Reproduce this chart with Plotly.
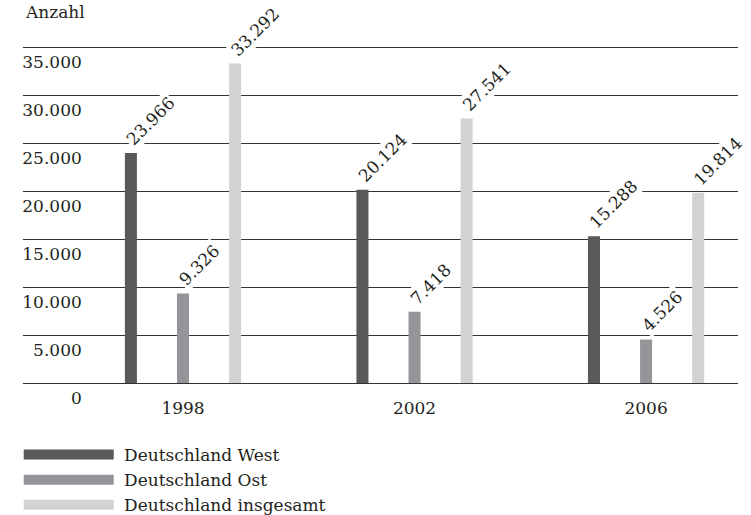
import plotly.graph_objects as go

# Anzahl nach Jahr und Region
years = ["1998", "2002", "2006"]
series_names = ["Deutschland West", "Deutschland Ost", "Deutschland insgesamt"]
west = [23966, 20124, 15288]
ost = [9326, 7418, 4526]
gesamt = [33292, 27541, 19814]
y_ticks = [0, 5000, 10000, 15000, 20000, 25000, 30000, 35000]

colors = ["#58595b", "#939598", "#d1d2d4"]
values = [west, ost, gesamt]
slot_offsets = [-0.225, 0.0, 0.225]

FONT = "DejaVu Serif"
TXT = "#231f20"

fig = go.Figure()

for name, vals, col in zip(series_names, values, colors):
    fig.add_trace(go.Bar(
        x=years, y=vals, name=name, marker=dict(color=col, line=dict(width=0)),
        showlegend=False, hoverinfo="skip",
    ))

# legend entries drawn as wide bars
for name, col in zip(series_names, colors):
    fig.add_trace(go.Scatter(
        x=[None], y=[None], mode="lines", name="\u00a0" + name, legendgroup=name,
        line=dict(color=col, width=12),
    ))

# rotated value labels with white backing
annotations = []
for vals, off in zip(values, slot_offsets):
    for i, v in enumerate(vals):
        label = f"{v:,}".replace(",", ".")
        annotations.append(dict(
            x=i + off, y=v, xref="x", yref="y", text=label, showarrow=False,
            textangle=-45, xanchor="left", yanchor="bottom",
            xshift=-11, yshift=1, bgcolor="white", borderpad=1,
            font=dict(family=FONT, size=17, color=TXT),
        ))

annotations.append(dict(
    x=0, y=1, xref="paper", yref="paper", text="Anzahl", showarrow=False,
    xanchor="left", yanchor="bottom", yshift=20,
    font=dict(family=FONT, size=17, color=TXT),
))

fig.update_layout(
    width=751, height=515,
    margin=dict(l=23, r=13, t=44, b=132, autoexpand=False),
    paper_bgcolor="white", plot_bgcolor="white",
    separators=",.",
    barmode="group", bargap=0.325, bargroupgap=0.769,
    font=dict(family=FONT, size=17, color=TXT),
    annotations=annotations,
    legend=dict(
        x=-0.006, y=1 - 437 / 515, xref="paper", yref="container",
        xanchor="left", yanchor="top",
        itemwidth=90, tracegroupgap=0, traceorder="normal",
        font=dict(family=FONT, size=17, color=TXT),
        bgcolor="rgba(0,0,0,0)",
    ),
    xaxis=dict(
        type="category", range=[-0.691, 2.397], showgrid=False, zeroline=False,
        showline=False, ticks="", ticklabelstandoff=13,
        tickfont=dict(family=FONT, size=17, color=TXT),
    ),
    yaxis=dict(
        range=[0, 35312], tickvals=y_ticks, tickformat=",d",
        showgrid=True, gridcolor="#333333", gridwidth=1.2,
        zeroline=True, zerolinecolor="#333333", zerolinewidth=1.2,
        showline=False, ticks="", anchor="free", position=0.085,
        ticklabelshift=15, ticklabelstandoff=2,
        tickfont=dict(family=FONT, size=17, color=TXT),
    ),
)

fig.write_html("out.html")
